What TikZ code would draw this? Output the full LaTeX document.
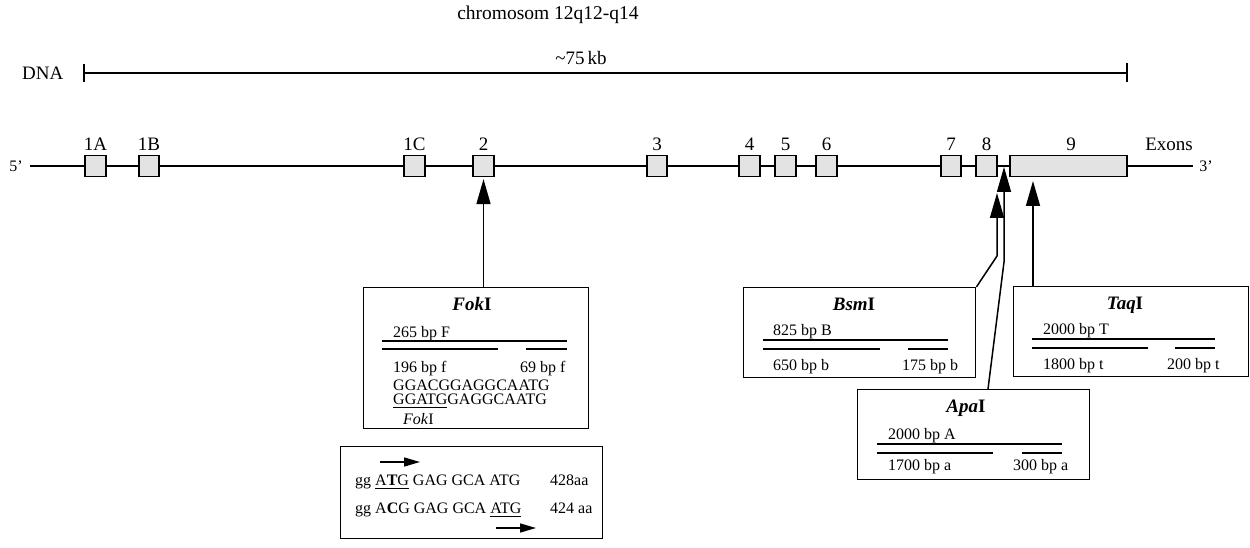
\documentclass[tikz,border=0pt]{standalone}
\usepackage{fontspec}
\setmainfont{Liberation Serif}
\usetikzlibrary{arrows.meta}
\newcommand\myul[1]{\setbox0\hbox{#1}\rlap{\rule[-4pt]{\wd0}{1.1pt}}\box0\relax}
\tikzset{
  exon/.style={draw, line width=1.2pt, fill=gray!22, minimum height=21pt, inner sep=0pt},
  lbl/.style={font=\fontsize{19}{22}\selectfont, inner sep=0pt},
  ttl/.style={font=\fontsize{19}{22}\selectfont\bfseries, inner sep=0pt, anchor=base},
  txt/.style={font=\fontsize{16}{18}\selectfont, inner sep=0pt, anchor=base west},
  rbox/.style={draw, line width=1.4pt, anchor=north west, inner sep=0pt},
  bigarrow/.style={line width=1.5pt, -{Triangle[length=25pt,width=14pt]}},
  smallarrow/.style={line width=1.5pt, -{Triangle[length=16pt,width=9pt]}},
  frag/.style={line width=1.5pt},
  rule/.style={line width=1.3pt},
}
\begin{document}
\begin{tikzpicture}[x=1pt,y=-1pt]
\fill[white] (0,0) rectangle (1250,548);
\useasboundingbox (0,0) rectangle (1250,548);

% title and DNA ruler
\node[lbl, font=\fontsize{19.5}{22}\selectfont] (title) at (548,15) {chromosom 12q12-q14};
\node[lbl, anchor=west] (dna) at (22,73) {DNA};
\coordinate (rL) at (84,73);
\coordinate (rR) at (1127,73);
\draw[rule] (rL) -- (rR);
\draw[rule] ([yshift=9pt]rL) -- ([yshift=-9pt]rL);
\draw[rule] ([yshift=10pt]rR) -- ([yshift=-9pt]rR);
\node[lbl] (kb) at (581,58) {\textasciitilde75\,kb};

% gene line
\coordinate (g5) at (30,166);
\coordinate (g3) at (1193,166);
\draw[rule] (g5) -- (g3);
\node[lbl, font=\fontsize{16}{18}\selectfont] (p5) at (16,166) {5'};
\node[lbl, font=\fontsize{16}{18}\selectfont] (p3) at (1206,166) {3'};

% exons
\foreach \n/\x/\w in {1A/95.5/21, 1B/149/20, 1C/414.5/21, 2/483.5/21, 3/657/20, 4/749.5/21, 5/785.5/21, 6/826.5/21, 7/951/20, 8/986.5/21}{
  \node[exon, minimum width=\w pt] (e\n) at (\x,166) {};
  \node[lbl, anchor=base] (l\n) at (\x,151) {\n};
}
\node[exon, minimum width=117pt] (e9) at (1068.5,166) {};
\node[lbl, anchor=base] (l9) at (1071,151) {9};
\node[lbl, anchor=base] (lex) at (1169,151) {Exons};

% FokI box
\node[rbox, minimum width=225pt, minimum height=141pt] (fok) at (363,287) {};
\node[ttl] (fokT) at (472,310) {\textit{Fok}I};
\node[txt] (fok1) at (393,337) {265 bp F};
\draw[frag] (382,341) -- (567,341);
\draw[frag] (382,349) -- (498,349);
\draw[frag] (526,349) -- (567,349);
\node[txt] (fok2) at (393,372) {196 bp f};
\node[txt] (fok3) at (520,372) {69 bp f};
\node[txt] (fok4) at (393,390) {GGACGGAGGCAATG};
\node[txt] (fok5) at (393,404) {\myul{GGATG}GAGGCAATG};
\node[txt] (fok6) at (403,424) {\textit{Fok}I};
\draw[bigarrow] (e2.south |- fok.north) -- ([yshift=-2pt]e2.south);

% sequence box
\node[rbox, minimum width=262pt, minimum height=92pt] (seq) at (340,446) {};
\coordinate (a1s) at (380,462);
\coordinate (a1e) at (420,462);
\draw[smallarrow] (a1s) -- (a1e);
\node[txt] (s1) at (355,485) {gg \myul{A\textbf{T}G} GAG GCA ATG};
\node[txt] (s1r) at (550,485) {428aa};
\node[txt] (s2) at (355,513) {gg A\textbf{C}G GAG GCA \myul{ATG}};
\node[txt] (s2r) at (550,513) {424 aa};
\coordinate (a2s) at (496,528);
\coordinate (a2e) at (536,528);
\draw[smallarrow] (a2s) -- (a2e);

% BsmI box
\node[rbox, minimum width=232pt, minimum height=90pt] (bsm) at (743,287) {};
\node[ttl] (bsmT) at (854,310) {\textit{Bsm}I};
\node[txt] (bsm1) at (773,335) {825 bp B};
\draw[frag] (763,340) -- (948,340);
\draw[frag] (763,349) -- (880,349);
\draw[frag] (908,349) -- (948,349);
\node[txt] (bsm2) at (773,370) {650 bp b};
\node[txt] (bsm3) at (902,370) {175 bp b};
\coordinate (bsmbend) at (997,256);
\coordinate (bsmtip) at (997,193);
\draw[bigarrow] (bsm.north east) -- (bsmbend) -- (bsmtip);

% TaqI box
\node[rbox, minimum width=235pt, minimum height=90pt] (taq) at (1013,286) {};
\node[ttl] (taqT) at (1125,309) {\textit{Taq}I};
\node[txt] (taq1) at (1043,334) {2000 bp T};
\draw[frag] (1032,339) -- (1215,339);
\draw[frag] (1032,348) -- (1148,348);
\draw[frag] (1175,348) -- (1215,348);
\node[txt] (taq2) at (1043,369) {1800 bp t};
\node[txt] (taq3) at (1167,369) {200 bp t};
\coordinate (taqtip) at (1033,181);
\draw[bigarrow] (taqtip |- taq.north) -- (taqtip);

% ApaI box
\node[rbox, minimum width=232pt, minimum height=90pt] (apa) at (857,389) {};
\node[ttl] (apaT) at (966,412) {\textit{Apa}I};
\node[txt] (apa1) at (888,439) {2000 bp A};
\draw[frag] (877,444) -- (1062,444);
\draw[frag] (877,453) -- (993,453);
\draw[frag] (1022,453) -- (1062,453);
\node[txt] (apa2) at (888,470) {1700 bp a};
\node[txt] (apa3) at (1013,470) {300 bp a};
\coordinate (apatop) at (988,389);
\coordinate (apabend) at (1004,262);
\coordinate (apatip) at (1004,167);
\draw[bigarrow] (apatop) -- (apabend) -- (apatip);
\end{tikzpicture}
\end{document}
